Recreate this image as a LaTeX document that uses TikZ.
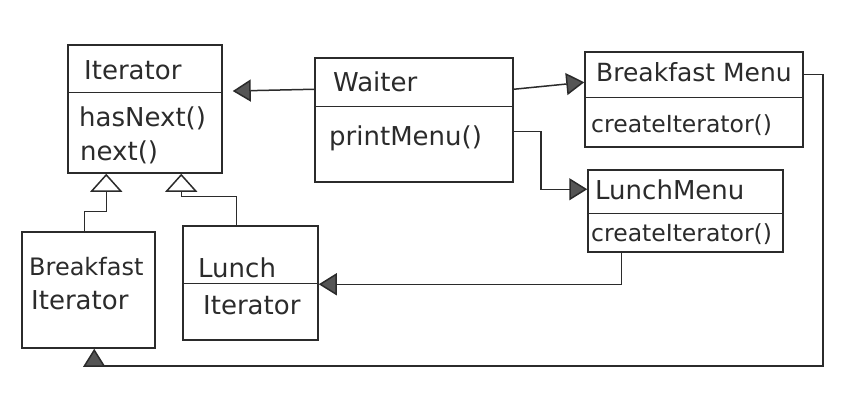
\documentclass[tikz,border=0pt]{standalone}
\usepackage{fontspec}
\setmainfont{DejaVu Sans}
\usetikzlibrary{arrows.meta}
\definecolor{ink}{HTML}{2B2B2B}
\definecolor{tipfill}{HTML}{555555}
\tikzset{
  box/.style={draw=ink, line width=1.5pt, inner sep=0pt, rectangle},
  divline/.style={draw=ink, line width=1.5pt},
  txt/.style={anchor=west, inner sep=0pt, text=ink, font=\fontsize{26}{29}\selectfont},
  mtxt/.style={anchor=west, inner sep=0pt, text=ink, font=\fontsize{23.5}{26}\selectfont},
  gen/.style={draw=ink, line width=1.5pt, -{Triangle[open, length=18pt, width=32pt, line width=1.5pt]}},
  assoc/.style={draw=ink, line width=1.5pt, -{Triangle[length=18pt, width=22pt, fill=tipfill, line width=1.5pt]}}
}
\begin{document}
\begin{tikzpicture}[x=1pt, y=-1pt]
\useasboundingbox[fill=white] (0,0) rectangle (856,416);
% boxes
\node[box, minimum width=154pt, minimum height=128pt] (it) at (145,109) {};
\node[box, minimum width=198pt, minimum height=124pt] (w) at (414,120) {};
\node[box, minimum width=218pt, minimum height=95pt] (bm) at (694,99.5) {};
\node[box, minimum width=195pt, minimum height=82pt] (lm) at (685.5,211) {};
\node[box, minimum width=133pt, minimum height=116pt] (bi) at (88.5,290) {};
\node[box, minimum width=135pt, minimum height=114pt] (li) at (250.5,283) {};
% dividers
\draw[divline] ([yshift=-48pt]it.north west) -- ([yshift=-48pt]it.north east);
\draw[divline] ([yshift=-49pt]w.north west) -- ([yshift=-49pt]w.north east);
\draw[divline] ([yshift=-46pt]bm.north west) -- ([yshift=-46pt]bm.north east);
\draw[divline] ([yshift=-44pt]lm.north west) -- ([yshift=-44pt]lm.north east);
\draw[divline] ([yshift=-58pt]li.north west) -- ([yshift=-58pt]li.north east);
% texts
\node[txt] (tit) at (84,70) {Iterator};
\node[txt] (thn) at (79,118) {hasNext()};
\node[txt] (tnx) at (80,152) {next()};
\node[txt] (tw) at (333,82) {Waiter};
\node[txt] (tpm) at (329,138) {printMenu()};
\node[txt, font=\fontsize{25}{28}\selectfont] (tbm) at (596,72) {Breakfast Menu};
\node[mtxt] (tbc) at (591,125) {createIterator()};
\node[txt] (tlm) at (595,190) {LunchMenu};
\node[mtxt] (tlc) at (591,234) {createIterator()};
\node[txt, font=\fontsize{24}{27}\selectfont] (tb1) at (29,267) {Breakfast};
\node[txt] (tb2) at (31,300) {Iterator};
\node[txt] (tl1) at (198,268) {Lunch};
\node[txt] (tl2) at (203,305) {Iterator};
% connectors
\coordinate (cr) at (823,366);
\draw[gen] ([xshift=63pt]bi.north west) -- ++(0,-20) -| ([xshift=39pt]it.south west);
\draw[gen] ([xshift=54pt]li.north west) -- ++(0,-29) -| ([xshift=114pt]it.south west);
\draw[assoc, shorten >=10pt] ([yshift=-32pt]w.north west) -- ([yshift=-47pt]it.north east);
\draw[assoc] ([yshift=-32pt]w.north east) -- ([yshift=-31pt]bm.north west);
\draw[assoc] ([yshift=-74pt]w.north east) -- ++(27,0) |- ([yshift=-20pt]lm.north west);
\draw[assoc] ([xshift=34pt]lm.south west) |- ([yshift=-59pt]li.north east);
\draw[assoc] ([yshift=-23pt]bm.north east) -| (cr) -| ([xshift=73pt]bi.south west);
\end{tikzpicture}
\end{document}
